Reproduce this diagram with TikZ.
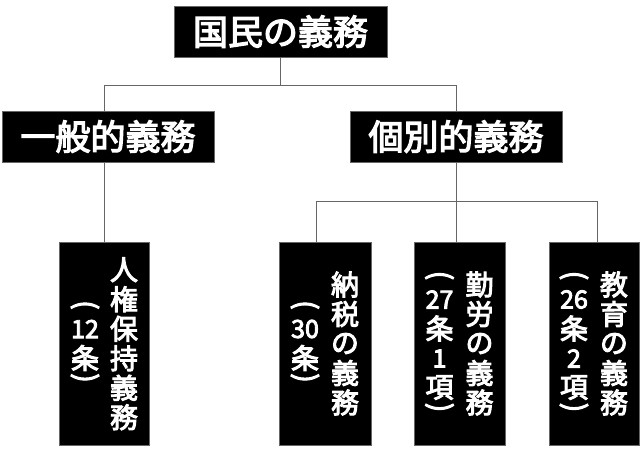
\documentclass[tikz,border=0pt]{standalone}
\usepackage{fontspec}
\usepackage{graphicx}
\newfontfamily\jp{Noto Sans CJK JP}[FakeBold=3.5]
\usetikzlibrary{backgrounds}
\newcommand{\vparen}[1]{\rotatebox[origin=c]{-90}{#1}}
\newcommand{\nm}{\fontsize{25}{25}\selectfont}
\newcommand{\vcol}[3]{\foreach \yy/\t [count=\k] in {#3} {\node[vch] (#1-\k) at (#2,\yy) {\t};}}
\tikzset{
  box/.style={fill=black, draw=black!60, line width=0.5pt, inner sep=0pt, text=white},
  title/.style={font=\jp\fontsize{35}{35}\selectfont},
  vch/.style={text=white, inner sep=0pt, font=\jp\fontsize{28}{28}\selectfont},
  conn/.style={draw=black!60, line width=0.8pt},
}
\begin{document}
\begin{tikzpicture}[x=1pt,y=-1pt]
\useasboundingbox (0,0) rectangle (640,451);
\node[box,title,minimum width=213pt,minimum height=51pt] (top) at (280.5,31.5) {国民の義務};
\node[box,title,minimum width=212pt,minimum height=51pt] (gen) at (108,136.5) {一般的義務};
\node[box,title,minimum width=212pt,minimum height=51pt] (ind) at (456,136.5) {個別的義務};
\node[box,minimum width=90pt,minimum height=203pt] (p1) at (104,343.5) {};
\node[box,minimum width=92pt,minimum height=203pt] (p2) at (325,343.5) {};
\node[box,minimum width=91pt,minimum height=203pt] (p3) at (459.5,343.5) {};
\node[box,minimum width=90pt,minimum height=203pt] (p4) at (594,343.5) {};
\begin{scope}[on background layer]
  \draw[conn] (top.south) -- ++(0,28.5) coordinate (j0);
  \draw[conn] (p1.north) |- (j0) -| (ind.north);
  \coordinate (d2) at (316,201);
  \coordinate (d4) at (597,201);
  \draw[conn] (ind.south) -- (ind.south |- p3.north);
  \draw[conn] (p2.north -| d2) |- (d4) -- (d4 |- p4.north);
\end{scope}
% p1
\vcol{p1r}{124}{269.75/人,299.25/権,328.75/保,358.25/持,387.75/義,417.25/務}
\vcol{p1l}{85}{307/{\vparen{(}},329/{\nm 12},358/条,380/{\vparen{)}}}
% p2
\vcol{p2r}{345}{284.5/納,314/税,343.5/の,373/義,402.5/務}
\vcol{p2l}{305}{307/{\vparen{(}},329/{\nm 30},358/条,380/{\vparen{)}}}
% p3
\vcol{p3r}{479.5}{284.5/勤,314/労,343.5/の,373/義,402.5/務}
\vcol{p3l}{439.5}{277.5/{\vparen{(}},299.5/{\nm 27},328.5/条,358.5/{\nm 1},387.5/項,409.5/{\vparen{)}}}
% p4
\vcol{p4r}{614}{284.5/教,314/育,343.5/の,373/義,402.5/務}
\vcol{p4l}{574}{277.5/{\vparen{(}},299.5/{\nm 26},328.5/条,358.5/{\nm 2},387.5/項,409.5/{\vparen{)}}}
\end{tikzpicture}
\end{document}
